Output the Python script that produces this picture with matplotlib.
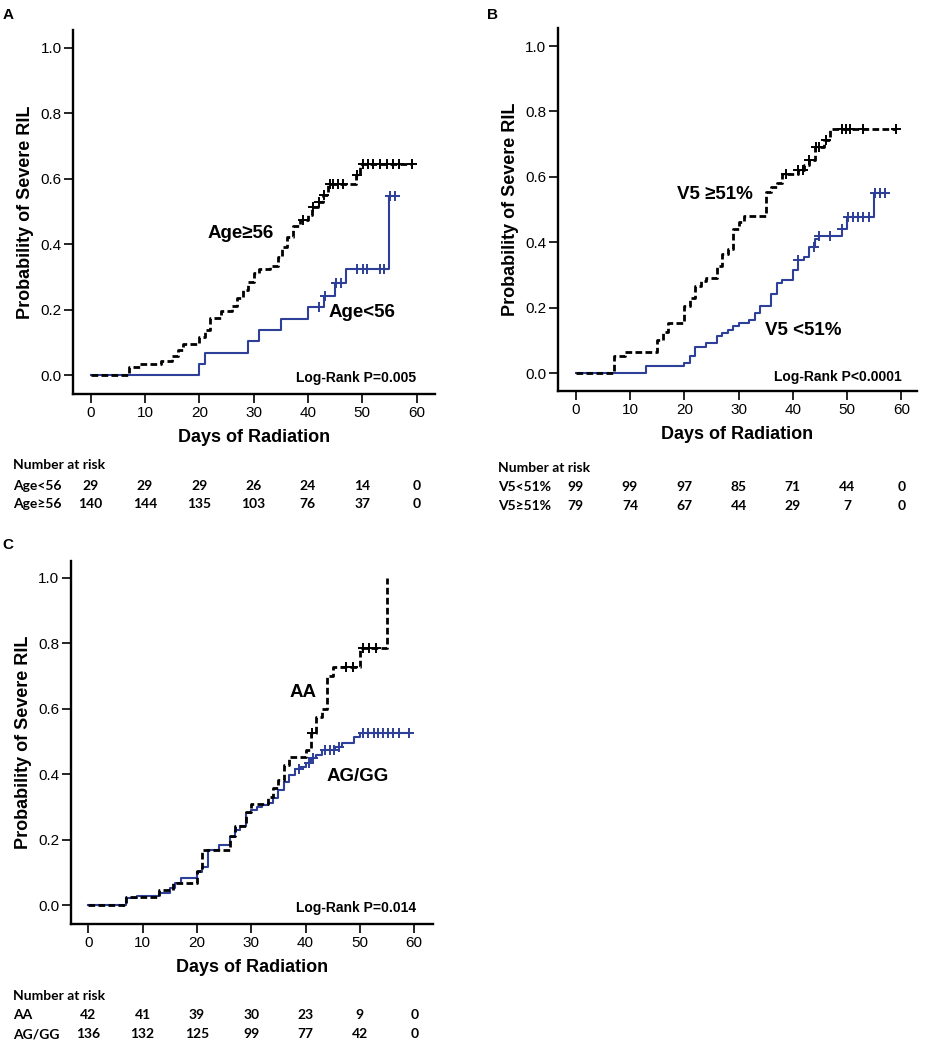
import numpy as np
import matplotlib
matplotlib.use('Agg')
import matplotlib.pyplot as plt
from matplotlib.transforms import blended_transform_factory

# ---------------- data ----------------
# Panel A : Age
a_lo_t = [0, 20, 21, 29, 31, 35, 40, 43, 45, 47, 55, 56]
a_lo_p = [0, 0.035, 0.069, 0.104, 0.138, 0.173, 0.208, 0.243, 0.281, 0.323, 0.548, 0.548]
a_lo_c = [42, 43.1, 45.2, 46, 49.1, 50.1, 50.9, 53.3, 54.0, 55.1, 56]

a_hi_t = [0, 7, 9, 13, 15, 16, 17, 20, 21, 22, 24, 26, 27, 28, 29, 30, 31, 33, 34.5, 35.2,
          36.1, 37.3, 38.5, 40.1, 40.7, 41.9, 42.8, 43.7, 48.8, 49.6, 59.1]
a_hi_p = [0, 0.024, 0.035, 0.045, 0.059, 0.077, 0.096, 0.116, 0.138, 0.176, 0.196, 0.212,
          0.235, 0.26, 0.284, 0.312, 0.325, 0.335, 0.362, 0.391, 0.423, 0.456, 0.474, 0.489,
          0.515, 0.53, 0.55, 0.585, 0.611, 0.644, 0.644]
a_hi_c = [39.0, 41.0, 42.1, 42.9, 44.0, 44.7, 45.6, 46.5, 49.0, 50.1, 51.1, 52.0, 53.3,
          54.5, 55.6, 56.8, 59.1]

# Panel B : V5
b_lo_t = [0, 13, 20, 21, 22, 24, 26, 27, 28, 29, 30, 32, 33, 34, 36, 37, 38, 40, 41, 42,
          43, 44, 44.8, 49, 50, 55, 57]
b_lo_p = [0, 0.020, 0.031, 0.051, 0.081, 0.092, 0.112, 0.122, 0.132, 0.143, 0.153, 0.163,
          0.183, 0.204, 0.242, 0.275, 0.283, 0.314, 0.346, 0.356, 0.385, 0.409, 0.418,
          0.44, 0.477, 0.552, 0.552]
b_lo_c = [41.0, 43.9, 44.9, 46.9, 49.0, 50.2, 51.1, 52.0, 52.9, 54.0, 55.1, 56.0, 56.9]

b_hi_t = [0, 7, 9, 15, 16, 17, 20, 21, 22, 23, 24, 26, 27, 28, 29, 30, 31, 35, 36, 37, 38,
          41, 42, 43, 44, 45.7, 46.8, 59]
b_hi_p = [0, 0.051, 0.064, 0.102, 0.127, 0.153, 0.204, 0.229, 0.265, 0.28, 0.292, 0.326,
          0.365, 0.38, 0.44, 0.463, 0.481, 0.555, 0.568, 0.582, 0.609, 0.621, 0.636, 0.652,
          0.69, 0.713, 0.745, 0.745]
b_hi_c = [38.8, 41.0, 41.9, 43.0, 44.2, 44.9, 46.1, 49.0, 49.8, 50.6, 52.9, 59.0]

# Panel C : genotype
c_aa_t = [0, 7, 13, 15.5, 20, 21, 26, 27, 29, 30, 33, 34, 35, 36, 37, 40, 41, 42, 43, 44,
          45, 50, 55]
c_aa_p = [0, 0.024, 0.047, 0.069, 0.106, 0.169, 0.212, 0.242, 0.286, 0.309, 0.332, 0.357,
          0.383, 0.428, 0.452, 0.474, 0.525, 0.574, 0.599, 0.701, 0.726, 0.787, 1.0]
c_aa_c = [41.1, 47.5, 48.8, 50.6, 51.7, 52.9]

c_ag_t = [0, 7, 9, 13, 15, 16, 17, 20, 21, 22, 24, 26, 27, 28, 29, 30, 31, 32, 33, 34, 35,
          36, 37, 38, 39, 40, 41, 42, 43, 45.5, 46.7, 49, 50, 59.1]
c_ag_p = [0, 0.022, 0.029, 0.037, 0.052, 0.067, 0.082, 0.103, 0.118, 0.169, 0.184, 0.21,
          0.23, 0.242, 0.281, 0.291, 0.299, 0.306, 0.313, 0.327, 0.352, 0.375, 0.398, 0.415,
          0.423, 0.435, 0.449, 0.459, 0.474, 0.484, 0.494, 0.515, 0.527, 0.527]
c_ag_c = [38.8, 40.6, 41.3, 43.5, 44.4, 45.3, 46.2, 50.6, 51.5, 52.5, 53.4, 54.3, 55.2,
          56.1, 57.2, 59.1]

risk_days = [0, 10, 20, 30, 40, 50, 60]
a_risk_names = ['Age<56', 'Age≥56']
a_risk_lo = [29, 29, 29, 26, 24, 14, 0]
a_risk_hi = [140, 144, 135, 103, 76, 37, 0]
b_risk_names = ['V5<51%', 'V5≥51%']
b_risk_lo = [99, 99, 97, 85, 71, 44, 0]
b_risk_hi = [79, 74, 67, 44, 29, 7, 0]
c_risk_names = ['AA', 'AG/GG']
c_risk_aa = [42, 41, 39, 30, 23, 9, 0]
c_risk_ag = [136, 132, 125, 99, 77, 42, 0]

pvals = ['Log-Rank P=0.005', 'Log-Rank P<0.0001', 'Log-Rank P=0.014']

# ---------------- style ----------------
plt.rcParams['font.family'] = ['Liberation Sans', 'DejaVu Sans']
BLUE = '#2d3f98'
TABLE_FONT = ['Lato', 'DejaVu Sans']

W, H = 925, 1050
fig = plt.figure(figsize=(W / 100, H / 100), dpi=100)


def draw_curve(ax, t, p, cens, color, dashed, lw):
    t = np.asarray(t, float)
    p = np.asarray(p, float)
    if dashed:
        ax.step(t, p, where='post', color=color, lw=lw, linestyle=(0, (2.4, 1.2)),
                solid_capstyle='butt', zorder=3)
    else:
        ax.step(t, p, where='post', color=color, lw=lw, zorder=2)
    c = np.asarray(cens, float)
    idx = np.searchsorted(t, c, side='right') - 1
    ax.plot(c, p[idx], linestyle='none', marker='+', color=color,
            markersize=7, markeredgewidth=1.4, zorder=4)


def setup_axes(rect, xlim, ylim):
    ax = fig.add_axes(rect)
    ax.set_xlim(*xlim)
    ax.set_ylim(*ylim)
    for s in ('top', 'right'):
        ax.spines[s].set_visible(False)
    for s in ('left', 'bottom'):
        ax.spines[s].set_linewidth(1.7)
    ax.set_xticks(risk_days)
    ax.set_yticks([0, 0.2, 0.4, 0.6, 0.8, 1.0])
    ax.set_yticklabels(['0.0', '0.2', '0.4', '0.6', '0.8', '1.0'])
    ax.tick_params(direction='out', length=6.5, width=1.2, labelsize=11, pad=2)
    ax.set_ylabel('Probability of Severe RIL', fontsize=13, fontweight='bold')
    ax.yaxis.set_label_coords(-0.108, 0.5)
    ax.set_xlabel('Days of Radiation', fontsize=13, fontweight='bold')
    ax.xaxis.set_label_coords(0.5, -0.095)
    return ax


def risk_table(ax, names, rows, ys_px, xlabel_px):
    tr = blended_transform_factory(ax.transData, fig.transFigure)
    fig.text(xlabel_px / W, 1 - ys_px[0] / H, 'Number at risk', fontsize=10,
             fontweight='bold', family=TABLE_FONT, ha='left', va='center')
    for name, row, ypx in zip(names, rows, ys_px[1:]):
        fig.text(xlabel_px / W, 1 - ypx / H, name, fontsize=10, fontweight='bold',
                 family=TABLE_FONT, ha='left', va='center')
        for d, v in zip(risk_days, row):
            ax.text(d, 1 - ypx / H, str(v), transform=tr, fontsize=10, fontweight='bold',
                    family=TABLE_FONT, ha='center', va='center')


# Panel A
axA = setup_axes([0.0793, 0.6245, 0.391, 0.347], (-3.19, 63.4), (-0.058, 1.054))
draw_curve(axA, a_lo_t, a_lo_p, a_lo_c, BLUE, False, 1.5)
draw_curve(axA, a_hi_t, a_hi_p, a_hi_c, 'black', True, 2.0)
axA.text(27.6, 0.434, 'Age≥56', fontsize=13.5, fontweight='bold', ha='center', va='center')
axA.text(49.9, 0.192, 'Age<56', fontsize=13.5, fontweight='bold', ha='center', va='center')
axA.text(59.9, -0.009, pvals[0], fontsize=10, fontweight='bold', ha='right', va='center')
risk_table(axA, a_risk_names, [a_risk_lo, a_risk_hi], [465, 485.5, 504.5], 13)

# Panel B
axB = setup_axes([0.6032, 0.6276, 0.3878, 0.3457], (-3.26, 62.8), (-0.055, 1.055))
draw_curve(axB, b_lo_t, b_lo_p, b_lo_c, BLUE, False, 1.5)
draw_curve(axB, b_hi_t, b_hi_p, b_hi_c, 'black', True, 2.0)
axB.text(25.6, 0.547, 'V5 ≥51%', fontsize=13.5, fontweight='bold', ha='center', va='center')
axB.text(41.9, 0.131, 'V5 <51%', fontsize=13.5, fontweight='bold', ha='center', va='center')
axB.text(60.1, -0.011, pvals[1], fontsize=10, fontweight='bold', ha='right', va='center')
risk_table(axB, b_risk_names, [b_risk_lo, b_risk_hi], [467.7, 486.7, 506], 498)

# Panel C
axC = setup_axes([0.0768, 0.1197, 0.391, 0.3463], (-3.18, 63.4), (-0.058, 1.052))
draw_curve(axC, c_ag_t, c_ag_p, c_ag_c, BLUE, False, 1.5)
draw_curve(axC, c_aa_t, c_aa_p, c_aa_c, 'black', True, 2.0)
axC.text(39.5, 0.649, 'AA', fontsize=13.5, fontweight='bold', ha='center', va='center')
axC.text(49.6, 0.393, 'AG/GG', fontsize=13.5, fontweight='bold', ha='center', va='center')
axC.text(60.3, -0.007, pvals[2], fontsize=10, fontweight='bold', ha='right', va='center')
risk_table(axC, c_risk_names, [c_risk_aa, c_risk_ag], [996, 1015, 1034.3], 13)

# Panel letters
fig.text(8 / W, 1 - 15 / H, 'A', fontsize=11, fontweight='bold', ha='center', va='center')
fig.text(492 / W, 1 - 15 / H, 'B', fontsize=11, fontweight='bold', ha='center', va='center')
fig.text(8 / W, 1 - 545 / H, 'C', fontsize=11, fontweight='bold', ha='center', va='center')

fig.savefig('out.png', dpi=100)
